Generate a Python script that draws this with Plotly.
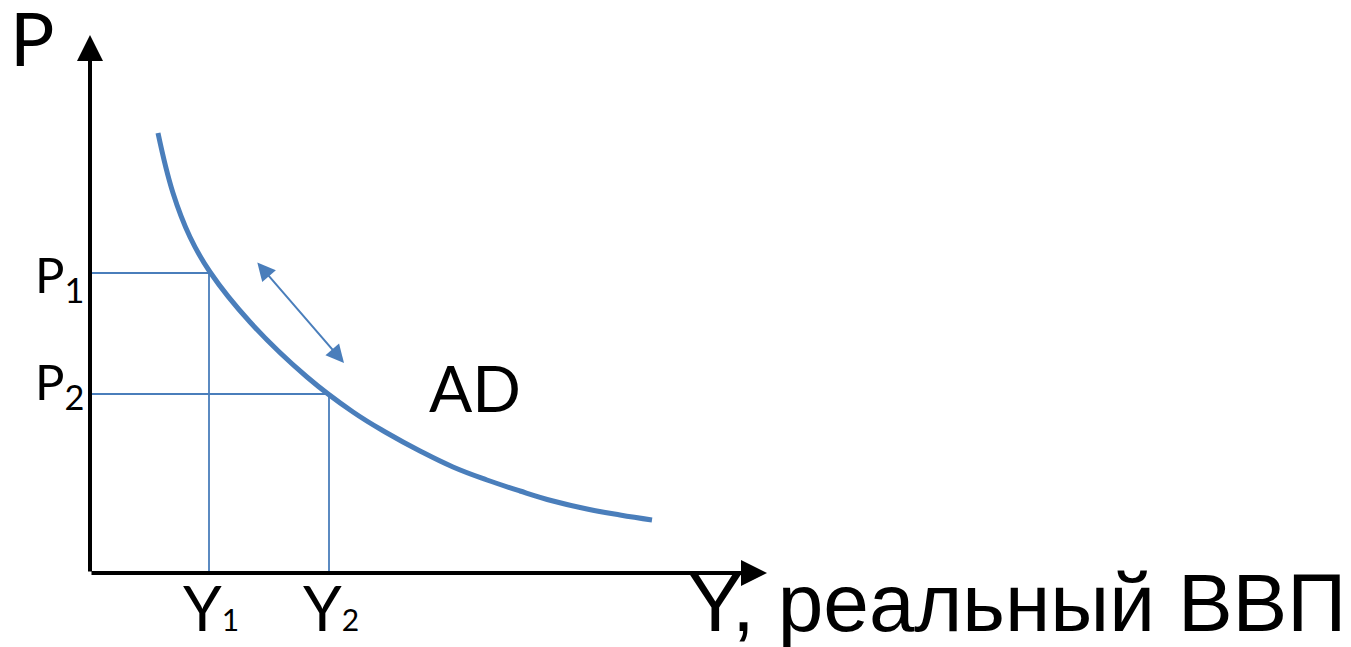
import plotly.graph_objects as go

# Data (units: chart coordinates, origin at axes intersection)
ad_x = [68, 83, 100, 120, 160, 217, 263, 297, 330, 363, 397, 430, 463, 497, 530, 562]
ad_y = [440, 380, 336, 301, 251, 196, 161, 140, 122, 106, 93, 82, 72, 64, 58, 53]
p_levels = [300, 179]
y_levels = [119, 239]
p_labels = ["P<sub>1</sub>", "P<sub>2</sub>"]
y_labels = ["Y<span style='font-size:30px'>1</span>", "Y<span style='font-size:30px'>2</span>"]
x_axis_end = 677
y_axis_end = 538
move_arrow_start = [166, 312]
move_arrow_end = [254, 210]

BLUE = "#4A7EBB"
FONT = "Lato"

fig = go.Figure()

# guide lines
for px, py in zip(y_levels, p_levels):
    fig.add_trace(go.Scatter(x=[0, px, px], y=[py, py, 0], mode="lines",
                             line=dict(color=BLUE, width=1.8), hoverinfo="skip"))

# AD curve
fig.add_trace(go.Scatter(x=ad_x, y=ad_y, mode="lines",
                         line=dict(color=BLUE, width=5, shape="spline", smoothing=1.2),
                         hoverinfo="skip"))

ann = []
# axes with arrows
ann.append(dict(x=x_axis_end, y=0, ax=0, ay=0, xref="x", yref="y", axref="x", ayref="y",
                showarrow=True, arrowhead=2, arrowsize=1.3, arrowwidth=4, arrowcolor="black", text=""))
ann.append(dict(x=0, y=y_axis_end, ax=0, ay=0, xref="x", yref="y", axref="x", ayref="y",
                showarrow=True, arrowhead=2, arrowsize=1.3, arrowwidth=4, arrowcolor="black", text=""))
# double arrow
ann.append(dict(x=move_arrow_end[0], y=move_arrow_end[1], ax=move_arrow_start[0], ay=move_arrow_start[1],
                xref="x", yref="y", axref="x", ayref="y", showarrow=True,
                arrowhead=2, startarrowhead=2, arrowside="end+start", arrowsize=1.8, startarrowsize=1.8,
                arrowwidth=2, arrowcolor=BLUE, text=""))

# labels
ann.append(dict(x=-58, y=536, xref="x", yref="y", text="P", showarrow=False,
                font=dict(family=FONT, size=74, color="black"), xanchor="center", yanchor="middle"))
p_label_dy = [0, 14]
for lab, py, dy in zip(p_labels, p_levels, p_label_dy):
    ann.append(dict(x=-4, y=py + dy - 4, xref="x", yref="y", text=lab, showarrow=False,
                    font=dict(family=FONT, size=49, color="black"), xanchor="right", yanchor="middle"))
for lab, px in zip(y_labels, y_levels):
    ann.append(dict(x=px + 2, y=-34, xref="x", yref="y", text=lab, showarrow=False,
                    font=dict(family=FONT, size=62, color="black"), xanchor="center", yanchor="middle"))
ann.append(dict(x=337, y=186, xref="x", yref="y", text="AD", showarrow=False,
                font=dict(family=FONT, size=64, color="black"), xanchor="left", yanchor="middle"))
ann.append(dict(x=596, y=-29, xref="x", yref="y", text="Y, реальный ВВП", showarrow=False,
                font=dict(family="Liberation Sans", size=82, color="black"), xanchor="left", yanchor="middle"))

fig.update_layout(
    width=1351, height=647,
    margin=dict(l=0, r=0, t=0, b=0),
    paper_bgcolor="white", plot_bgcolor="white",
    showlegend=False,
    xaxis=dict(range=[-90, 1261], visible=False, fixedrange=True),
    yaxis=dict(range=[-74, 573], visible=False, fixedrange=True),
    annotations=ann,
)

fig.write_html("out.html", config={"displayModeBar": False},
               post_script="document.body.style.margin='0';document.body.style.overflow='hidden';")
